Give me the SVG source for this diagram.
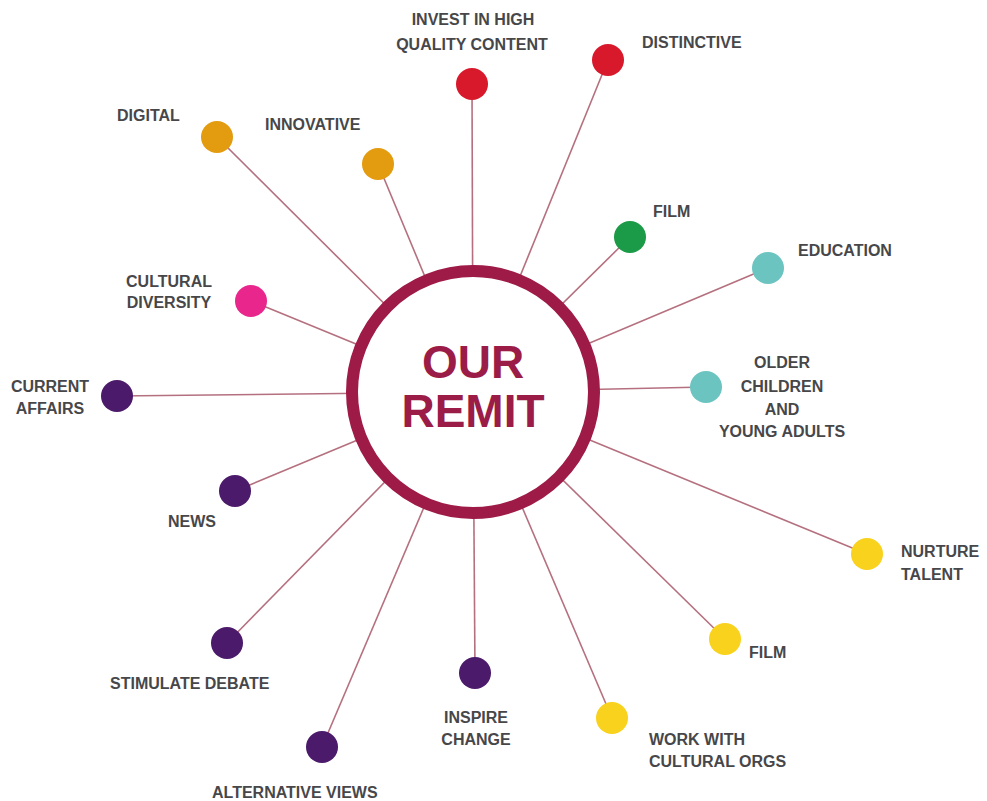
<svg xmlns="http://www.w3.org/2000/svg" width="987" height="801" viewBox="0 0 987 801">
<style>
.lbl{font-family:"Liberation Sans",Arial,sans-serif;font-weight:bold;font-size:16px;fill:#47474a}
.mid{text-anchor:middle}
.ctr{font-family:"Liberation Sans",Arial,sans-serif;font-weight:bold;font-size:46px;fill:#9b1c46;text-anchor:middle}
.con line{stroke:#b5707f;stroke-width:1.6}
.orange{fill:#e39b10}.red{fill:#d8192b}.green{fill:#1b9a47}.teal{fill:#6cc4c1}.pink{fill:#e8268c}.purple{fill:#4b1a6a}.yellow{fill:#f8d21c}
</style>
<rect width="987" height="801" fill="#ffffff"/>
<g class="con" id="connectors">
<line x1="217" y1="137" x2="473" y2="392"/>
<line x1="378" y1="164" x2="473" y2="392"/>
<line x1="472" y1="84" x2="473" y2="392"/>
<line x1="608" y1="60" x2="473" y2="392"/>
<line x1="630" y1="237" x2="473" y2="392"/>
<line x1="768" y1="268" x2="473" y2="392"/>
<line x1="706" y1="387" x2="473" y2="392"/>
<line x1="251" y1="301" x2="473" y2="392"/>
<line x1="117" y1="396" x2="473" y2="392"/>
<line x1="235" y1="491" x2="473" y2="392"/>
<line x1="867" y1="554" x2="473" y2="392"/>
<line x1="725" y1="639" x2="473" y2="392"/>
<line x1="612" y1="718" x2="473" y2="392"/>
<line x1="227" y1="643" x2="473" y2="392"/>
<line x1="322" y1="747" x2="473" y2="392"/>
<line x1="475" y1="673" x2="473" y2="392"/>
</g>
<g id="center">
<circle cx="473" cy="392" r="121" fill="#ffffff" stroke="#9e1a47" stroke-width="12"/>
<text class="ctr" x="473" y="378">OUR</text>
<text class="ctr" x="473" y="427">REMIT</text>
</g>
<g id="n-digital"><circle class="orange" cx="217" cy="137" r="16"/><text class="lbl" x="117" y="121">DIGITAL</text></g>
<g id="n-innovative"><circle class="orange" cx="378" cy="164" r="16"/><text class="lbl" x="265" y="130">INNOVATIVE</text></g>
<g id="n-invest"><circle class="red" cx="472" cy="84" r="16"/><text class="lbl mid" x="473" y="25">INVEST IN HIGH</text><text class="lbl mid" x="472" y="50">QUALITY CONTENT</text></g>
<g id="n-distinctive"><circle class="red" cx="608" cy="60" r="16"/><text class="lbl" x="642" y="48">DISTINCTIVE</text></g>
<g id="n-film1"><circle class="green" cx="630" cy="237" r="16"/><text class="lbl" x="653" y="217">FILM</text></g>
<g id="n-education"><circle class="teal" cx="768" cy="268" r="16"/><text class="lbl" x="798" y="256">EDUCATION</text></g>
<g id="n-older"><circle class="teal" cx="706" cy="387" r="16"/><text class="lbl mid" x="782" y="368">OLDER</text><text class="lbl mid" x="782" y="392">CHILDREN</text><text class="lbl mid" x="782" y="415">AND</text><text class="lbl mid" x="782" y="437">YOUNG ADULTS</text></g>
<g id="n-cultural"><circle class="pink" cx="251" cy="301" r="16"/><text class="lbl mid" x="169" y="287">CULTURAL</text><text class="lbl mid" x="169" y="308">DIVERSITY</text></g>
<g id="n-current"><circle class="purple" cx="117" cy="396" r="16"/><text class="lbl mid" x="50" y="392">CURRENT</text><text class="lbl mid" x="50" y="414">AFFAIRS</text></g>
<g id="n-news"><circle class="purple" cx="235" cy="491" r="16"/><text class="lbl" x="168" y="527">NEWS</text></g>
<g id="n-nurture"><circle class="yellow" cx="867" cy="554" r="16"/><text class="lbl" x="901" y="557">NURTURE</text><text class="lbl" x="901" y="580">TALENT</text></g>
<g id="n-film2"><circle class="yellow" cx="725" cy="639" r="16"/><text class="lbl" x="749" y="658">FILM</text></g>
<g id="n-work"><circle class="yellow" cx="612" cy="718" r="16"/><text class="lbl" x="649" y="745">WORK WITH</text><text class="lbl" x="649" y="767">CULTURAL ORGS</text></g>
<g id="n-stimulate"><circle class="purple" cx="227" cy="643" r="16"/><text class="lbl" x="110" y="689">STIMULATE DEBATE</text></g>
<g id="n-alternative"><circle class="purple" cx="322" cy="747" r="16"/><text class="lbl" x="212" y="798">ALTERNATIVE VIEWS</text></g>
<g id="n-inspire"><circle class="purple" cx="475" cy="673" r="16"/><text class="lbl mid" x="476" y="723">INSPIRE</text><text class="lbl mid" x="476" y="745">CHANGE</text></g>
</svg>
